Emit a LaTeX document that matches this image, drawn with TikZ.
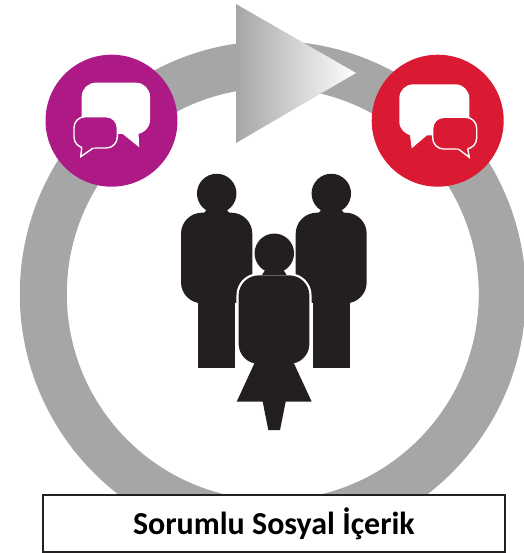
\documentclass[tikz,border=0pt]{standalone}
\usepackage{fontspec}
\setmainfont{Carlito}
\usetikzlibrary{shapes}
\definecolor{ringgray}{HTML}{A6A6A6}
\definecolor{talkpurple}{HTML}{AD1A85}
\definecolor{talkred}{HTML}{DA1A32}
\definecolor{peopleblack}{HTML}{231F20}
\begin{document}
\begin{tikzpicture}[
		x=0.02cm, y=-0.02cm,
		talk/.style={circle, minimum size=2.64cm, inner sep=0pt, outer sep=0pt},
		bubble/.style={fill=white, rounded corners=0.28cm},
		minibubble/.style={draw=white, line width=0.8pt, rounded corners=0.22cm},
		tailline/.style={draw=white, line width=0.8pt, line join=miter},
		body/.style={fill=peopleblack, rounded corners=0.42cm},
		head/.style={circle, fill=peopleblack, minimum size=0.79cm, inner sep=0pt, outer sep=0pt},
		caption/.style={draw=peopleblack, line width=1pt, fill=white, minimum width=9.24cm, minimum height=1.13cm, inner sep=0pt, font=\bfseries\fontsize{18.2}{20}\selectfont},
		]
	\useasboundingbox (0,0) rectangle (523,553);
	\fill[ringgray, even odd rule] (272.8,294) circle (253) (272.8,294) circle (206);
	\shade[left color=ringgray, right color=white, shading=axis] (236,4) -- (356,73) -- (236,143) -- cycle;

	\node (purple) [talk, fill=talkpurple] at (111.5,120.7) {};
	\fill[bubble] (81.7,82.7) rectangle (150,134);
	\fill[white] (122.7,130) -- (122.7,134) -- (139.3,147.3) -- (138.3,130) -- cycle;
	\draw[minibubble, fill=talkpurple] (74,116.7) rectangle (117.3,148);
	\fill[talkpurple] (84,146) -- (81.7,147.7) -- (80.7,156.7) -- (93.3,148.3) -- (96,146) -- cycle;
	\draw[tailline] (81.7,148) -- (80.7,156.7) -- (93.3,148);

	\node (red) [talk, fill=talkred] at (437.7,120.7) {};
	\fill[bubble] (399.3,84.3) rectangle (469.3,135.5);
	\fill[white] (410,131) -- (410,135.5) -- (411.7,148.3) -- (426.7,135.5) -- (426.7,131) -- cycle;
	\draw[minibubble, fill=talkred] (432.7,117.3) rectangle (476.7,149);
	\fill[talkred] (456,147) -- (458.3,149) -- (469.3,157.3) -- (467.7,148.3) -- (467.7,147) -- cycle;
	\draw[tailline] (458.3,149) -- (469.3,157.3) -- (467.7,148.5);

	\node (headL) [head] at (216.7,193.5) {};
	\fill[peopleblack] (204,213) -- (209,207) -- (224.4,207) -- (229.4,213) -- cycle;
	\fill[body] (181,212.7) rectangle (252.3,303.3);
	\fill[peopleblack] (197.7,290) rectangle (235.3,368.3);
	\node (headR) [head] at (331.3,193.5) {};
	\fill[peopleblack] (318.6,213) -- (323.6,207) -- (339,207) -- (344,213) -- cycle;
	\fill[body] (295.7,212.7) rectangle (366.7,303.3);
	\fill[peopleblack] (312.7,290) rectangle (350,368.3);

	\draw[body, draw=white, line width=1.2pt] (237.5,274.3) rectangle (310.5,365);
	\node (headW) [head] at (274.3,253.3) {};
	\fill[peopleblack] (262,275) -- (267,267) -- (281.6,267) -- (286.6,275) -- cycle;
	\fill[peopleblack] (255,362) -- (293.3,362) -- (311.7,401.7) -- (285.7,401.7) -- (280,430) -- (268.3,430) -- (262.7,401.7) -- (236.7,401.7) -- cycle;

	\node (title) [caption] at (273.9,523.4) {Sorumlu Sosyal İçerik};
\end{tikzpicture}
\end{document}
